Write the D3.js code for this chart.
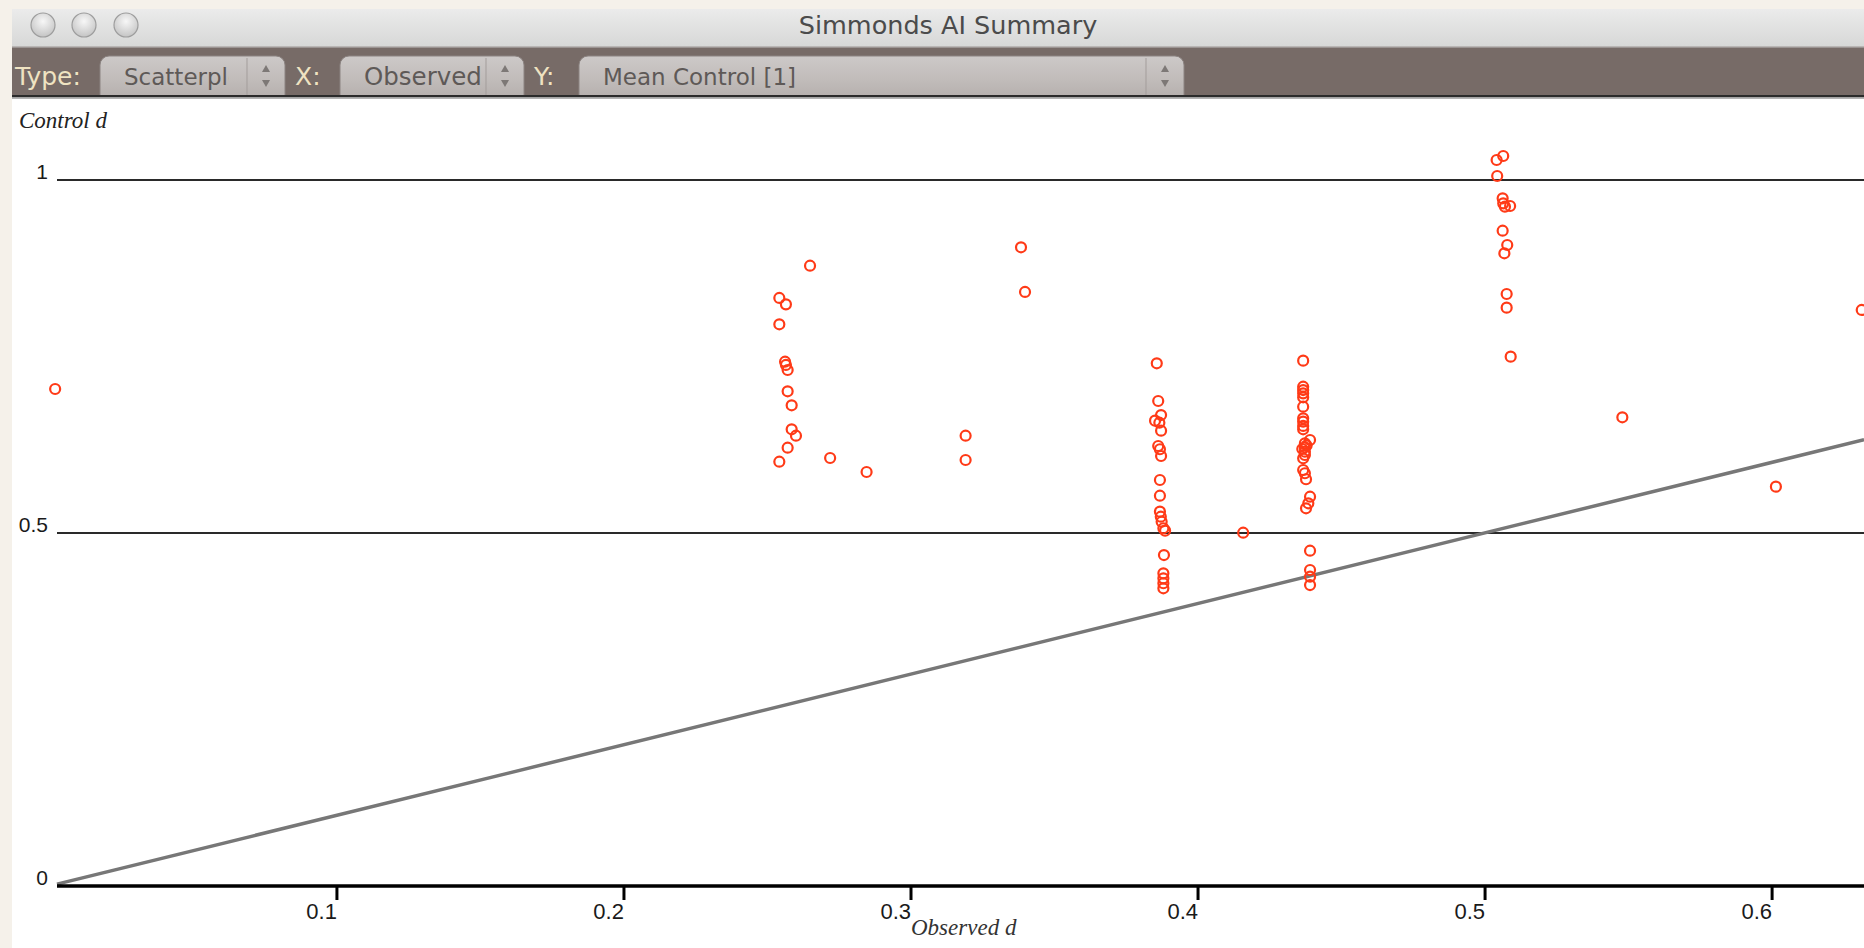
<!DOCTYPE html>
<html>
<head>
<meta charset="utf-8">
<title>Simmonds AI Summary</title>
<script src="https://cdn.jsdelivr.net/npm/d3@7"></script>
<style>
  html, body { margin: 0; padding: 0; background: #f5f1ea; overflow: hidden; }
  svg { display: block; }
</style>
</head>
<body>
<script>
/* chart values */
var windowTitle = "Simmonds AI Summary";
var xLabel = "Observed d",
	yLabel = "Control d";
var xTicks = [0.1, 0.2, 0.3, 0.4, 0.5, 0.6];
var yTicks = [0, 0.5, 1];
var refLines = [0.5, 1];
var xRange = [0.00265, 0.6322];

// toolbar popups: label, shown text (cut off by the popup like in the app)
var popupLabels = ["Type:", "X:", "Y:"];
var popupTexts = ["Scatterplot", "Observed d", "Mean Control [1]"];

// observed d (x) and mean control d (y) for every point
var observedD = [
	0.0020,
	0.2650, 0.2543, 0.2566, 0.2543, 0.2563, 0.2566, 0.2572, 0.2572, 0.2586, 0.2586, 0.2601, 0.2572, 0.2543,
	0.2720, 0.2847, 0.3192, 0.3192, 0.3385, 0.3399,
	0.3858, 0.3863, 0.3873, 0.3852, 0.3867, 0.3873, 0.3863, 0.3869, 0.3873, 0.3869, 0.3869, 0.3869, 0.3872,
	0.3875, 0.3881, 0.3887, 0.3883, 0.3881, 0.3881, 0.3881, 0.3881,
	0.4159,
	0.4368, 0.4368, 0.4368, 0.4368, 0.4368, 0.4368, 0.4368, 0.4368, 0.4368, 0.4368, 0.4392, 0.4374, 0.4374,
	0.4374, 0.4374, 0.4368, 0.4368, 0.4374, 0.4378, 0.4392, 0.4386, 0.4378, 0.4392, 0.4392, 0.4392, 0.4392,
	0.4380, 0.4365,
	0.5042, 0.5065, 0.5044, 0.5063, 0.5065, 0.5071, 0.5089, 0.5063, 0.5079, 0.5069, 0.5077, 0.5077, 0.5091,
	0.5480, 0.6015, 0.6314
];
var controlD = [
	0.7040,
	0.8786, 0.8329, 0.8239, 0.7956, 0.7426, 0.7380, 0.7309, 0.7007, 0.6809, 0.6469, 0.6378, 0.6208, 0.6010,
	0.6062, 0.5864, 0.6378, 0.6034, 0.9047, 0.8414,
	0.7404, 0.6870, 0.6671, 0.6591, 0.6562, 0.6449, 0.6232, 0.6186, 0.6091, 0.5751, 0.5528, 0.5302, 0.5231,
	0.5160, 0.5067, 0.5033, 0.4688, 0.4429, 0.4358, 0.4288, 0.4217,
	0.5004,
	0.7441, 0.7072, 0.7025, 0.6978, 0.6922, 0.6789, 0.6624, 0.6577, 0.6516, 0.6469, 0.6317, 0.6270, 0.6214,
	0.6152, 0.6105, 0.6058, 0.5892, 0.5846, 0.5761, 0.5514, 0.5421, 0.5350, 0.4749, 0.4476, 0.4381, 0.4263,
	0.6240, 0.6190,
	1.0283, 1.0340, 1.0057, 0.9741, 0.9669, 0.9622, 0.9632, 0.9282, 0.9079, 0.8962, 0.8385, 0.8192, 0.7498,
	0.6639, 0.5656, 0.8159
];

var W = 1864, H = 948;

var svg = d3.select("body").append("svg")
	.attr("width", W)
	.attr("height", H);

var defs = svg.append("defs");

/* gradients for the window chrome */
function linGrad(id, stops) {
	var g = defs.append("linearGradient")
		.attr("id", id)
		.attr("x1", 0).attr("y1", 0)
		.attr("x2", 0).attr("y2", 1);
	stops.forEach(function(s) {
		g.append("stop").attr("offset", s[0]).attr("stop-color", s[1]);
	});
}
linGrad("titleGrad", [[0, "#ebebeb"], [1, "#d6d7d6"]]);
linGrad("popupGrad", [[0, "#cdc9c8"], [0.5, "#c0bbb9"], [1, "#b0aaa8"]]);

var btnGrad = defs.append("radialGradient")
	.attr("id", "btnGrad")
	.attr("cx", "50%").attr("cy", "35%").attr("r", "65%");
btnGrad.append("stop").attr("offset", 0).attr("stop-color", "#f7f7f7");
btnGrad.append("stop").attr("offset", 1).attr("stop-color", "#c4c4c4");

// the toolbar hides the bottom of the popups
defs.append("clipPath")
	.attr("id", "toolbarClip")
	.append("rect")
	.attr("x", 0).attr("y", 47)
	.attr("width", W).attr("height", 48);

// cream page and white window body
svg.append("rect")
	.attr("width", W).attr("height", H)
	.attr("fill", "#f5f1ea");
svg.append("rect")
	.attr("x", 12).attr("y", 9)
	.attr("width", W - 12).attr("height", H - 9)
	.attr("fill", "#ffffff");

/* title bar */
svg.append("rect")
	.attr("x", 12).attr("y", 9)
	.attr("width", W - 12).attr("height", 39)
	.attr("fill", "url(#titleGrad)");

svg.selectAll(".winbtn")
	.data([43, 84, 126])
	.enter().append("circle")
	.attr("class", "winbtn")
	.attr("cx", function(d) { return d; })
	.attr("cy", 25)
	.attr("r", 12)
	.attr("fill", "url(#btnGrad)")
	.attr("stroke", "#9d9d9d")
	.attr("stroke-width", 1.2);

svg.append("text")
	.attr("x", 948)
	.attr("y", 34)
	.attr("text-anchor", "middle")
	.style("font-family", "'DejaVu Sans', sans-serif")
	.style("font-size", "25.5px")
	.style("fill", "#4b4b4b")
	.text(windowTitle);

/* toolbar */
svg.append("rect")
	.attr("x", 12).attr("y", 47)
	.attr("width", W - 12).attr("height", 50)
	.attr("fill", "#776b67");
svg.append("rect")
	.attr("x", 12).attr("y", 46.5)
	.attr("width", W - 12).attr("height", 1.5)
	.attr("fill", "#9b9492");

var labelX = [15, 295, 534];
var popX = [100, 340, 579],
	popW = [185, 184, 605],
	popTextW = [129, 141, 560],       // visible width of the popup text
	popFont = [23, 24.5, 23];

var toolbar = svg.append("g")
	.attr("class", "toolbar")
	.attr("clip-path", "url(#toolbarClip)");

popupLabels.forEach(function(lab, i) {
	toolbar.append("text")
		.attr("x", labelX[i])
		.attr("y", 85)
		.style("font-family", "'DejaVu Sans', sans-serif")
		.style("font-size", "25px")
		.style("fill", "#efe3c2")
		.text(lab);

	var g = toolbar.append("g")
		.attr("transform", "translate(" + popX[i] + ",56)");

	g.append("rect")
		.attr("width", popW[i])
		.attr("height", 50)
		.attr("rx", 9)
		.attr("fill", "url(#popupGrad)")
		.attr("stroke", "#8c8482")
		.attr("stroke-width", 1);

	var sep = popW[i] - 38;
	g.append("line")
		.attr("x1", sep).attr("x2", sep)
		.attr("y1", 2).attr("y2", 40)
		.attr("stroke", "#a39d9b")
		.attr("stroke-width", 1);

	// text is cut off before the arrows
	defs.append("clipPath")
		.attr("id", "popText" + i)
		.append("rect")
		.attr("x", 0).attr("y", 0)
		.attr("width", popTextW[i]).attr("height", 40);

	g.append("text")
		.attr("x", 24)
		.attr("y", 29)
		.attr("clip-path", "url(#popText" + i + ")")
		.style("font-family", "'DejaVu Sans', sans-serif")
		.style("font-size", popFont[i] + "px")
		.style("fill", "#5e5957")
		.text(popupTexts[i]);

	// up / down arrows
	var ax = popW[i] - 19;
	g.append("path")
		.attr("d", "M" + (ax - 4) + ",16 L" + (ax + 4) + ",16 L" + ax + ",9 Z")
		.attr("fill", "#7d7876");
	g.append("path")
		.attr("d", "M" + (ax - 4) + ",24 L" + (ax + 4) + ",24 L" + ax + ",31 Z")
		.attr("fill", "#7d7876");
});

// dark edge under the toolbar
svg.append("rect")
	.attr("x", 12).attr("y", 95)
	.attr("width", W - 12).attr("height", 2.5)
	.attr("fill", "#2b2b2b");
svg.append("rect")
	.attr("x", 12).attr("y", 97.5)
	.attr("width", W - 12).attr("height", 1.5)
	.attr("fill", "#b4b4b4");

/* plot */
var x = d3.scaleLinear()
	.domain([0, 0.6])
	.range([49.4, 1771.6]);

var y = d3.scaleLinear()
	.domain([0, 1])
	.range([886, 180]);

var plot = svg.append("g").attr("class", "plot");

// reference lines at 0.5 and 1
plot.selectAll(".refline")
	.data(refLines)
	.enter().append("line")
	.attr("class", "refline")
	.attr("x1", x(xRange[0]))
	.attr("x2", W)
	.attr("y1", function(d) { return y(d); })
	.attr("y2", function(d) { return y(d); })
	.attr("stroke", "#2a2a2a")
	.attr("stroke-width", 2.2);

// diagonal y = x
plot.append("line")
	.attr("x1", x(xRange[0]))
	.attr("y1", y(xRange[0]))
	.attr("x2", x(xRange[1]))
	.attr("y2", y(xRange[1]))
	.attr("stroke", "#777777")
	.attr("stroke-width", 3.5);

// x axis with ticks going down
var xAxis = d3.axisBottom(x)
	.tickValues(xTicks)
	.tickSize(14)
	.tickFormat(d3.format(".1f"));

var gx = plot.append("g")
	.attr("transform", "translate(0," + y(0) + ")")
	.call(xAxis);

gx.select(".domain").remove();
gx.append("line")
	.attr("x1", x(xRange[0]))
	.attr("x2", W)
	.attr("stroke", "#000")
	.attr("stroke-width", 3.5);
gx.selectAll(".tick line")
	.attr("stroke", "#000")
	.attr("stroke-width", 3);
gx.selectAll(".tick text")
	.attr("text-anchor", "end")
	.attr("x", 0)
	.attr("y", 33)
	.attr("dy", null)
	.style("font-family", "'Liberation Sans', Arial, sans-serif")
	.style("font-size", "22px")
	.style("fill", "#1a1a1a");

// y tick labels, text only
plot.selectAll(".ylab")
	.data(yTicks)
	.enter().append("text")
	.attr("class", "ylab")
	.attr("x", 48)
	.attr("y", function(d) { return y(d) - 1; })
	.attr("text-anchor", "end")
	.style("font-family", "'Liberation Sans', Arial, sans-serif")
	.style("font-size", "21px")
	.style("fill", "#1a1a1a")
	.text(function(d) { return d3.format("")(d); });

// axis titles
svg.append("text")
	.attr("x", 19)
	.attr("y", 128)
	.style("font-family", "'Liberation Serif', 'Times New Roman', serif")
	.style("font-style", "italic")
	.style("font-size", "23px")
	.style("fill", "#222")
	.text(yLabel);

svg.append("text")
	.attr("x", 911)
	.attr("y", 935)
	.style("font-family", "'Liberation Serif', 'Times New Roman', serif")
	.style("font-style", "italic")
	.style("font-size", "23px")
	.style("fill", "#333")
	.text(xLabel);

/* the points */
var points = observedD.map(function(d, i) { return [d, controlD[i]]; });

plot.selectAll(".pt")
	.data(points)
	.enter().append("circle")
	.attr("class", "pt")
	.attr("cx", function(d) { return x(d[0]); })
	.attr("cy", function(d) { return y(d[1]); })
	.attr("r", 5)
	.attr("fill", "none")
	.attr("stroke", "#ff3a17")
	.attr("stroke-width", 2.2);
</script>
</body>
</html>
